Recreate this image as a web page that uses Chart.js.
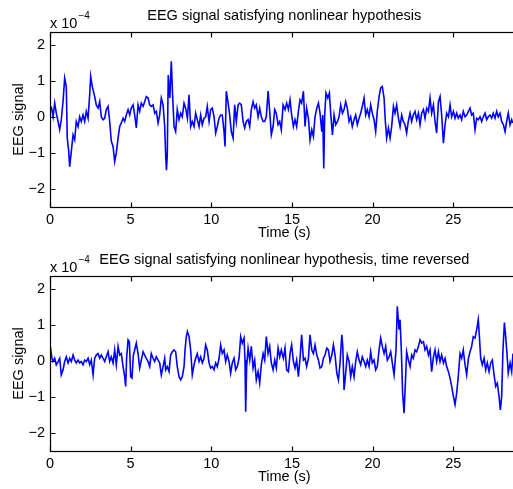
<!DOCTYPE html>
<html><head><meta charset="utf-8">
<script src="https://cdn.jsdelivr.net/npm/chart.js@4"></script>
<style>
html,body{margin:0;padding:0;background:#fff;overflow:hidden;width:513px;height:489px;}
canvas{position:absolute;left:0;}
#c1{top:0px}
#c2{top:244px}
</style></head><body>
<canvas id="c1" width="530" height="245"></canvas>
<canvas id="c2" width="530" height="245"></canvas>
<script>
// Time (s) and EEG signal (x 10^-4)
const timeTop = [0.00,0.10,0.19,0.29,0.39,0.50,0.60,0.70,0.81,0.91,1.01,1.07,1.16,1.22,1.32,1.43,1.53,1.63,1.74,1.84,1.94,2.05,2.15,2.25,2.36,2.46,2.52,2.62,2.77,2.87,2.98,3.08,3.18,3.29,3.39,3.49,3.60,3.70,3.80,3.91,4.01,4.11,4.22,4.32,4.42,4.53,4.63,4.73,4.84,4.94,5.04,5.15,5.25,5.35,5.46,5.56,5.66,5.77,5.87,5.97,6.08,6.18,6.28,6.39,6.49,6.59,6.70,6.80,6.90,7.01,7.11,7.17,7.22,7.27,7.33,7.43,7.52,7.60,7.69,7.79,7.89,8.00,8.10,8.20,8.31,8.41,8.52,8.62,8.72,8.82,8.93,9.03,9.13,9.24,9.34,9.44,9.55,9.65,9.75,9.86,9.96,10.06,10.17,10.27,10.37,10.48,10.58,10.68,10.79,10.85,10.93,11.03,11.14,11.24,11.35,11.45,11.55,11.66,11.76,11.86,11.97,12.07,12.17,12.28,12.38,12.48,12.59,12.69,12.79,12.90,13.00,13.10,13.21,13.31,13.41,13.52,13.62,13.72,13.83,13.93,14.03,14.14,14.24,14.34,14.45,14.57,14.67,14.78,14.88,14.98,15.09,15.19,15.29,15.40,15.50,15.60,15.71,15.81,15.91,16.02,16.12,16.23,16.33,16.43,16.54,16.64,16.74,16.85,16.91,16.97,17.03,17.11,17.22,17.32,17.40,17.51,17.61,17.71,17.82,17.92,18.02,18.13,18.23,18.33,18.43,18.54,18.64,18.74,18.85,18.95,19.05,19.16,19.26,19.36,19.47,19.57,19.67,19.78,19.88,19.98,20.09,20.19,20.29,20.40,20.50,20.60,20.71,20.79,20.87,20.98,21.08,21.18,21.29,21.39,21.49,21.60,21.70,21.80,21.90,22.01,22.11,22.21,22.32,22.42,22.52,22.63,22.73,22.84,22.94,23.04,23.15,23.25,23.35,23.46,23.56,23.66,23.77,23.87,23.97,24.08,24.18,24.28,24.39,24.49,24.59,24.70,24.80,24.90,25.01,25.11,25.21,25.31,25.42,25.52,25.62,25.73,25.83,25.94,26.04,26.14,26.24,26.35,26.45,26.55,26.66,26.76,26.86,26.97,27.07,27.17,27.28,27.38,27.48,27.59,27.69,27.79,27.90,28.00,28.11,28.21,28.31,28.41,28.52,28.62,28.68];
const eegTop = [0.15,0.24,0.00,0.38,0.10,-0.13,-0.36,-0.08,0.43,1.07,0.84,-0.59,-0.96,-1.38,-0.96,-0.50,-0.64,-0.13,-0.27,0.00,-0.13,0.05,-0.13,0.15,-0.04,0.61,1.12,0.84,0.56,0.33,0.24,0.42,0.00,-0.08,-0.04,0.20,0.29,-0.13,-0.68,-0.82,-1.24,-1.00,-0.59,-0.27,-0.17,-0.04,-0.13,0.05,0.20,0.05,0.24,0.33,0.05,-0.31,0.33,0.15,0.38,0.29,0.42,0.56,0.52,0.33,0.29,0.33,0.10,0.15,-0.17,0.05,0.52,0.33,-0.27,-1.06,-1.48,-1.06,1.16,0.52,1.54,0.61,-0.27,-0.41,0.20,-0.08,0.10,0.00,0.38,0.24,-0.04,0.61,-0.27,-0.13,-0.27,0.10,-0.08,-0.27,0.05,-0.22,-0.04,0.00,0.29,-0.13,0.20,0.24,0.00,-0.45,-0.27,-0.04,0.05,0.05,-0.41,-0.82,0.71,0.42,0.05,-0.41,-0.59,0.33,-0.13,0.33,0.38,0.33,-0.13,-0.31,-0.13,-0.08,-0.27,0.20,0.42,0.24,0.33,0.00,0.24,0.00,-0.13,-0.13,0.00,0.71,0.15,-0.50,-0.27,0.20,0.10,-0.22,-0.13,-0.36,0.33,0.20,0.38,0.20,0.47,0.05,-0.27,-0.08,-0.27,0.15,0.47,0.38,0.71,-0.27,0.24,-0.04,-0.64,-0.36,-0.55,0.00,0.24,0.38,0.10,-0.41,0.05,-1.43,0.05,0.66,0.52,0.66,0.10,-0.50,0.05,-0.22,-0.13,0.00,0.33,0.10,0.20,0.42,0.24,-0.13,0.00,-0.27,-0.08,0.05,-0.22,-0.04,0.10,0.29,0.52,0.05,0.20,0.00,0.33,0.10,-0.08,-0.41,0.15,0.56,0.80,0.84,0.52,-0.13,-0.59,-0.31,-0.59,-0.27,0.29,0.10,0.33,-0.04,-0.27,0.05,-0.13,-0.22,-0.45,-0.13,0.10,-0.13,0.05,0.15,-0.08,0.10,-0.22,0.10,0.20,-0.04,0.24,0.15,0.52,0.10,0.33,-0.13,-0.45,0.42,0.56,0.05,-0.73,-0.22,0.10,0.00,0.33,0.00,0.15,-0.04,0.10,-0.04,0.05,-0.08,0.15,0.00,0.05,0.15,0.24,0.05,0.10,-0.36,-0.04,-0.08,0.00,-0.13,0.00,0.10,-0.08,0.00,0.05,-0.04,0.10,-0.04,0.15,0.00,0.10,-0.13,-0.22,-0.41,-0.13,0.10,-0.22,-0.08,-0.17];

const timeRev = [0.02,0.12,0.19,0.29,0.39,0.50,0.60,0.70,0.81,0.91,1.01,1.12,1.22,1.32,1.43,1.53,1.63,1.74,1.84,1.94,2.05,2.15,2.25,2.36,2.46,2.56,2.67,2.77,2.87,2.98,3.08,3.18,3.29,3.39,3.49,3.60,3.70,3.80,3.91,4.01,4.11,4.22,4.32,4.42,4.53,4.63,4.69,4.75,4.84,4.92,5.00,5.08,5.17,5.25,5.35,5.46,5.56,5.66,5.77,5.87,5.97,6.08,6.18,6.28,6.39,6.49,6.59,6.70,6.80,6.90,7.01,7.11,7.17,7.27,7.38,7.48,7.58,7.69,7.79,7.89,8.00,8.10,8.20,8.31,8.37,8.45,8.52,8.62,8.72,8.82,8.93,9.03,9.13,9.24,9.34,9.44,9.55,9.65,9.75,9.86,9.96,10.06,10.17,10.27,10.37,10.48,10.58,10.68,10.79,10.89,10.99,11.10,11.20,11.30,11.41,11.51,11.61,11.72,11.82,11.92,12.03,12.09,12.13,12.19,12.28,12.38,12.48,12.59,12.69,12.79,12.90,13.00,13.10,13.21,13.31,13.41,13.52,13.62,13.72,13.83,13.93,14.03,14.14,14.24,14.34,14.47,14.57,14.67,14.78,14.88,14.98,15.09,15.19,15.29,15.40,15.50,15.60,15.71,15.81,15.91,16.02,16.12,16.23,16.33,16.43,16.54,16.64,16.74,16.85,16.95,17.05,17.16,17.26,17.36,17.47,17.57,17.67,17.78,17.88,17.98,18.09,18.15,18.23,18.33,18.43,18.54,18.64,18.74,18.85,18.95,19.05,19.16,19.26,19.36,19.47,19.57,19.67,19.78,19.88,19.98,20.09,20.19,20.29,20.40,20.50,20.60,20.71,20.81,20.91,21.02,21.12,21.22,21.33,21.45,21.53,21.64,21.70,21.78,21.86,21.95,22.03,22.11,22.22,22.32,22.42,22.52,22.63,22.73,22.84,22.94,23.04,23.15,23.25,23.35,23.46,23.56,23.66,23.77,23.87,23.97,24.08,24.18,24.28,24.39,24.49,24.59,24.70,24.80,24.90,25.01,25.11,25.21,25.31,25.42,25.52,25.62,25.73,25.83,25.94,26.04,26.14,26.24,26.35,26.45,26.55,26.62,26.70,26.80,26.91,27.01,27.11,27.22,27.32,27.42,27.53,27.63,27.73,27.84,27.92,28.00,28.08,28.17,28.25,28.33,28.41,28.52,28.62,28.70];
const eegRev = [0.40,0.07,-0.02,0.07,-0.11,-0.02,0.07,-0.39,-0.25,-0.02,0.11,-0.06,0.07,-0.02,0.16,0.02,-0.06,0.02,-0.06,-0.02,-0.11,0.02,-0.02,0.07,-0.11,0.02,-0.39,0.07,0.16,0.20,0.07,0.16,0.07,-0.02,0.11,0.25,-0.02,0.11,-0.06,0.30,-0.11,0.40,0.16,0.20,-0.16,-0.44,-0.71,0.07,0.58,0.53,-0.44,-0.48,0.16,0.30,0.49,0.20,-0.20,0.02,0.25,0.16,0.07,-0.02,-0.16,0.20,0.07,-0.02,0.11,0.02,-0.06,-0.39,-0.16,0.07,-0.25,-0.16,-0.30,0.16,0.25,0.30,0.25,-0.16,-0.44,-0.53,-0.44,-0.16,0.30,0.67,0.81,0.67,0.30,-0.39,-0.11,0.07,0.20,-0.02,0.11,-0.06,0.07,0.44,0.30,-0.06,-0.20,-0.16,-0.25,-0.06,-0.16,0.07,0.44,0.20,0.30,-0.02,0.16,-0.02,-0.34,-0.06,0.07,-0.25,-0.16,0.07,0.67,0.49,0.63,0.02,-1.41,-0.16,0.35,0.02,0.40,-0.20,0.02,-0.53,-0.30,-0.62,-0.11,0.20,0.02,0.67,0.20,0.40,-0.06,-0.25,0.02,-0.20,0.35,0.11,0.30,0.07,0.35,-0.25,-0.30,0.20,0.44,-0.02,-0.20,0.02,-0.44,0.07,0.72,0.02,0.07,-0.16,0.07,0.72,0.30,0.20,0.44,0.16,0.02,-0.20,-0.16,0.07,0.16,0.35,0.30,-0.02,0.16,0.44,0.16,-0.34,-0.53,-0.06,0.72,0.40,-0.81,-0.34,0.16,-0.02,-0.44,-0.16,-0.44,-0.02,0.25,0.02,-0.11,0.11,-0.02,-0.16,0.02,-0.16,0.25,-0.06,0.02,-0.25,-0.16,0.30,0.63,0.40,0.20,0.40,0.02,0.11,0.25,-0.06,-0.39,0.30,1.51,0.86,1.14,0.30,-0.90,-1.45,-0.62,0.25,0.02,-0.16,0.16,0.07,0.30,0.25,0.40,0.58,0.49,0.53,0.30,0.40,0.16,0.30,-0.30,0.11,0.30,-0.02,0.25,-0.02,0.16,-0.06,0.07,-0.16,-0.30,-0.48,-0.71,-0.99,-1.21,-0.90,-0.44,0.20,0.07,0.30,-0.11,-0.39,0.07,0.25,0.40,0.67,0.63,0.86,1.14,0.67,0.07,-0.11,0.07,-0.25,-0.06,-0.30,-0.06,0.02,-0.39,-0.71,-0.62,-0.99,-1.36,-0.99,0.30,1.06,0.67,0.20,-0.34,-0.06,-0.30,0.20];

const xTicks = [0,5,10,15,20,25];
const yTicks = [-2,-1,0,1,2];
const titleTop = 'EEG signal satisfying nonlinear hypothesis';
const titleRev = 'EEG signal satisfying nonlinear hypothesis, time reversed';
const xLabel = 'Time (s)';
const yLabel = 'EEG signal';

const FONT = '"Liberation Sans", Arial, Helvetica, sans-serif';
const FS = 14.5;

const matlabAxes = {
  id: 'matlabAxes',
  afterDatasetsDraw(chart) {
    const {ctx, chartArea: a, scales: {x, y}} = chart;
    ctx.save();
    ctx.strokeStyle = '#000';
    ctx.lineWidth = 1.2;
    const l = Math.round(a.left) + 0.5, t = Math.round(a.top) + 0.5;
    const r = Math.round(a.right) + 0.5, b = Math.round(a.bottom) + 0.5;
    ctx.strokeRect(l, t, r - l, b - t);
    ctx.beginPath();
    const L = 5;
    x.ticks.forEach(tk => {
      const px = Math.round(x.getPixelForValue(tk.value)) + 0.5;
      ctx.moveTo(px, b); ctx.lineTo(px, b - L);
      ctx.moveTo(px, t); ctx.lineTo(px, t + L);
    });
    y.ticks.forEach(tk => {
      const py = Math.round(y.getPixelForValue(tk.value)) + 0.5;
      ctx.moveTo(l, py); ctx.lineTo(l + L, py);
      ctx.moveTo(r, py); ctx.lineTo(r - L, py);
    });
    ctx.stroke();
    ctx.fillStyle = '#000';
    ctx.textAlign = 'left';
    ctx.textBaseline = 'alphabetic';
    ctx.font = FS + 'px ' + FONT;
    ctx.fillText('x 10', a.left, a.top - 4);
    const w = ctx.measureText('x 10').width;
    ctx.font = '10px ' + FONT;
    ctx.fillText('\u22124', a.left + w + 1, a.top - 13);
    ctx.restore();
  }
};

function makeChart(id, times, values, title) {
  const pts = times.map((t, i) => ({x: t, y: values[i]}));
  const font = {family: FONT, size: FS, weight: 'normal'};
  return new Chart(document.getElementById(id), {
    type: 'line',
    data: {datasets: [{data: pts, borderColor: '#0000ff', borderWidth: 1.6, pointRadius: 0, tension: 0, fill: false}]},
    options: {
      responsive: false,
      animation: false,
      devicePixelRatio: 1,
      layout: {padding: {left: 0, right: 11.4, top: 0, bottom: 0}},
      plugins: {
        legend: {display: false},
        tooltip: {enabled: false},
        title: {display: true, text: title, fullSize: false, color: '#000', font: font, padding: {top: 7.3, bottom: 7.3}}
      },
      scales: {
        x: {
          type: 'linear', min: 0, max: 29.05,
          grid: {display: false, drawTicks: false},
          border: {display: false},
          afterBuildTicks: s => { s.ticks = xTicks.map(v => ({value: v})); },
          afterFit: s => { s.height = 38; },
          ticks: {color: '#000', font: font, padding: 4, maxRotation: 0, autoSkip: false},
          title: {display: true, text: xLabel, color: '#000', font: font, padding: {top: 0, bottom: 3.5}}
        },
        y: {
          type: 'linear', min: -2.5, max: 2.35,
          grid: {display: false, drawTicks: false},
          border: {display: false},
          afterBuildTicks: s => { s.ticks = yTicks.map(v => ({value: v})); },
          afterFit: s => { s.width = 50; },
          ticks: {color: '#000', font: font, padding: 5, callback: v => String(v).replace('-', '\u2212')},
          title: {display: true, text: yLabel, color: '#000', font: font, padding: {top: 10.3, bottom: 0}}
        }
      }
    },
    plugins: [matlabAxes]
  });
}

makeChart('c1', timeTop, eegTop, titleTop);
makeChart('c2', timeRev, eegRev, titleRev);
</script>
</body></html>
